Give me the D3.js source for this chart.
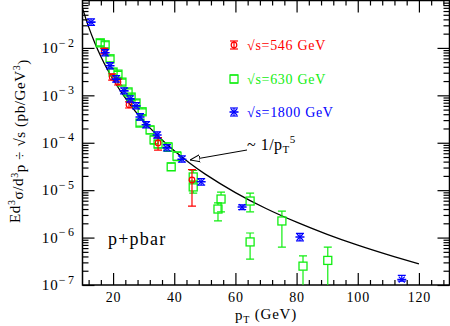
<!DOCTYPE html>
<html>
<head>
<meta charset="utf-8">
<script src="https://cdn.jsdelivr.net/npm/d3@7"></script>
<style>
body{margin:0;background:#fff}
svg{display:block}
text{font-family:"Liberation Serif",serif}
</style>
</head>
<body>
<svg id="chart" width="450" height="326"></svg>
<script>
// [pT, value, lower, upper]
var pts546 = [
	[17.1, 8.6e-3, 7.5e-3, 9.8e-3],
	[19.7, 2.45e-3, 2.1e-3, 2.85e-3],
	[21.6, 1.9e-3, 1.65e-3, 2.2e-3],
	[25.2, 6.3e-4, 5.4e-4, 7.3e-4],
	[34.7, 9.9e-5, 7.0e-5, 1.28e-4],
	[45.8, 1.64e-5, 4.6e-6, 2.7e-5]
];
var pts630 = [
	[15.8, 1.28e-2, 1.1e-2, 1.5e-2],
	[17.4, 1.16e-2, 1.0e-2, 1.35e-2],
	[19.0, 5.9e-3, 5.1e-3, 6.8e-3],
	[20.0, 3.1e-3, 2.7e-3, 3.6e-3],
	[21.6, 2.8e-3, 2.4e-3, 3.2e-3],
	[22.9, 1.9e-3, 1.65e-3, 2.2e-3],
	[24.9, 1.18e-3, 1.02e-3, 1.36e-3],
	[25.9, 9.2e-4, 8.0e-4, 1.06e-3],
	[27.5, 6.9e-4, 6.0e-4, 8.0e-4],
	[29.5, 4.5e-4, 3.9e-4, 5.2e-4],
	[28.8, 2.6e-4, 2.25e-4, 3.0e-4],
	[32.1, 1.86e-4, 1.55e-4, 2.25e-4],
	[33.4, 1.15e-4, 9.5e-5, 1.4e-4],
	[34.7, 9.4e-5, 7.8e-5, 1.13e-4],
	[38.0, 8.1e-5, 6.6e-5, 1.0e-4],
	[40.9, 5.2e-5, 4.2e-5, 6.4e-5],
	[39.0, 3.1e-5, 2.6e-5, 3.7e-5],
	[46.2, 1.9e-5, 1.35e-5, 2.6e-5],
	[46.2, 1.17e-5, 8.7e-6, 1.5e-5],
	[55.3, 6.5e-6, 3.5e-6, 9.1e-6],
	[54.3, 4.0e-6, 2.25e-6, 5.4e-6],
	[64.8, 5.9e-6, 3.5e-6, 8.7e-6],
	[64.8, 8.1e-7, 3.5e-7, 1.25e-6],
	[75.2, 2.24e-6, 6.3e-7, 3.6e-6],
	[82.1, 2.5e-7, 1e-8, 4.1e-7],
	[90.2, 3.3e-7, 1e-8, 6.3e-7]
];
var pts1800 = [
	[12.8, 3.5e-2, 3.0e-2, 4.1e-2],
	[17.4, 7.9e-3, 6.8e-3, 9.2e-3],
	[19.0, 4.2e-3, 3.6e-3, 4.9e-3],
	[21.0, 2.2e-3, 1.9e-3, 2.6e-3],
	[23.6, 1.24e-3, 1.07e-3, 1.44e-3],
	[25.6, 8.4e-4, 7.2e-4, 9.8e-4],
	[27.5, 6.0e-4, 5.2e-4, 7.0e-4],
	[28.8, 3.5e-4, 3.0e-4, 4.1e-4],
	[30.8, 2.4e-4, 2.05e-4, 2.8e-4],
	[34.4, 1.46e-4, 1.25e-4, 1.7e-4],
	[37.6, 7.8e-5, 6.7e-5, 9.1e-5],
	[42.5, 4.5e-5, 3.9e-5, 5.3e-5],
	[48.8, 1.5e-5, 1.28e-5, 1.75e-5],
	[62.2, 4.4e-6, 3.9e-6, 4.9e-6],
	[81.1, 1.03e-6, 8.5e-7, 1.23e-6],
	[114.4, 1.3e-7, 1.2e-7, 1.6e-7]
];
// the ~1/pT^5 curve
var curvePts = [
	[10, 6.9e-2], [12, 2.78e-2], [14, 1.29e-2], [16, 6.6e-3], [18, 3.66e-3],
	[20, 2.16e-3], [25, 7.1e-4], [30, 2.85e-4], [35, 1.32e-4], [40, 6.75e-5],
	[45, 3.75e-5], [50, 2.21e-5], [60, 8.9e-6], [70, 4.1e-6], [80, 2.11e-6],
	[90, 1.17e-6], [100, 6.9e-7], [110, 4.3e-7], [120, 2.78e-7]
];
var xMajor = [20, 40, 60, 80, 100, 120];
var yMajor = [1e-7, 1e-6, 1e-5, 1e-4, 1e-3, 1e-2];
var legendLabels = ["\u221As=546 GeV", "\u221As=630 GeV", "\u221As=1800 GeV"];

var RED = "#ff0000", GREEN = "#11ee11", BLUE = "#0000ff";

var svg = d3.select("#chart");
var L = 82.5, R = 449.5, T = 0.5, B = 285;
var x = d3.scaleLinear().domain([10, 130]).range([L, R]);
var y = d3.scaleLog().domain([1e-7, 1e-1]).range([B, T]);

var xMinor = d3.range(12, 130, 4).filter(function(v){ return v % 20 != 0; });
var yMinor = [];
for(var k = -7; k < -1; k++){
	for(var m = 2; m <= 9; m++) yMinor.push(m * Math.pow(10, k));
}

function styleAxis(g){
	g.select(".domain").remove();
	g.selectAll("line").attr("stroke", "#000").attr("stroke-width", 1.2);
}

// ticks on all four sides, pointing inward
svg.append("g").attr("transform", "translate(0," + B + ")")
	.call(d3.axisBottom(x).tickValues(xMajor).tickSizeInner(-12).tickSizeOuter(0).tickPadding(7))
	.call(styleAxis)
	.selectAll("text").attr("font-size", 14).attr("letter-spacing", 0.8).attr("fill", "#000");
svg.append("g").attr("transform", "translate(0," + B + ")")
	.call(d3.axisBottom(x).tickValues(xMinor).tickSizeInner(-5).tickSizeOuter(0).tickFormat(""))
	.call(styleAxis);
svg.append("g").attr("transform", "translate(0," + T + ")")
	.call(d3.axisTop(x).tickValues(xMajor).tickSizeInner(-12).tickSizeOuter(0).tickFormat(""))
	.call(styleAxis);
svg.append("g").attr("transform", "translate(0," + T + ")")
	.call(d3.axisTop(x).tickValues(xMinor).tickSizeInner(-5).tickSizeOuter(0).tickFormat(""))
	.call(styleAxis);

var yl = svg.append("g").attr("transform", "translate(" + L + ",0)")
	.call(d3.axisLeft(y).tickValues(yMajor).tickSizeInner(-12).tickSizeOuter(0).tickPadding(6).tickFormat(""))
	.call(styleAxis);
yl.selectAll(".tick text").each(function(d){
	var t = d3.select(this).attr("font-size", 15).attr("fill", "#000").attr("dy", "0.32em");
	t.append("tspan").attr("letter-spacing", 1).text("10");
	t.append("tspan").attr("font-size", 12).attr("letter-spacing", 2.5).attr("dy", "-0.55em").text("\u2212" + Math.round(-Math.log10(d)));
});
svg.append("g").attr("transform", "translate(" + L + ",0)")
	.call(d3.axisLeft(y).tickValues(yMinor).tickSizeInner(-6).tickSizeOuter(0).tickFormat(""))
	.call(styleAxis);
svg.append("g").attr("transform", "translate(" + R + ",0)")
	.call(d3.axisRight(y).tickValues(yMajor).tickSizeInner(-12).tickSizeOuter(0).tickFormat(""))
	.call(styleAxis);
svg.append("g").attr("transform", "translate(" + R + ",0)")
	.call(d3.axisRight(y).tickValues(yMinor).tickSizeInner(-6).tickSizeOuter(0).tickFormat(""))
	.call(styleAxis);

svg.append("rect").attr("x", L).attr("y", T).attr("width", R - L).attr("height", B - T)
	.attr("fill", "none").attr("stroke", "#000").attr("stroke-width", 1.5);

svg.append("clipPath").attr("id", "plotclip").append("rect")
	.attr("x", L).attr("y", T).attr("width", R - L).attr("height", B - T);
var plot = svg.append("g").attr("clip-path", "url(#plotclip)");

// curve
plot.append("path").datum(curvePts)
	.attr("d", d3.line().x(function(d){ return x(d[0]); }).y(function(d){ return y(d[1]); }).curve(d3.curveCatmullRom))
	.attr("fill", "none").attr("stroke", "#000").attr("stroke-width", 1.3);

function errBar(g, cx, yHi, yLo, gapTop, gapBot, col){
	var cw = 4;
	g.append("line").attr("x1", cx).attr("x2", cx).attr("y1", yHi).attr("y2", gapTop).attr("stroke", col);
	g.append("line").attr("x1", cx).attr("x2", cx).attr("y1", gapBot).attr("y2", yLo).attr("stroke", col);
	g.append("line").attr("x1", cx - cw).attr("x2", cx + cw).attr("y1", yHi).attr("y2", yHi).attr("stroke", col);
	g.append("line").attr("x1", cx - cw).attr("x2", cx + cw).attr("y1", yLo).attr("y2", yLo).attr("stroke", col);
}

function drawRed(g, cx, cy, yHi, yLo){
	errBar(g, cx, yHi, yLo, cy, cy, RED);
	g.append("circle").attr("cx", cx).attr("cy", cy).attr("r", 2.8).attr("fill", "none").attr("stroke", RED).attr("stroke-width", 1.2);
}
function drawGreen(g, cx, cy, yHi, yLo){
	errBar(g, cx, yHi, yLo, Math.min(cy - 4, yLo), Math.max(cy + 4, yHi), GREEN);
	g.append("rect").attr("x", cx - 4).attr("y", cy - 4).attr("width", 8).attr("height", 8)
		.attr("fill", "none").attr("stroke", GREEN).attr("stroke-width", 1.3);
}
function drawBlue(g, cx, cy, yHi, yLo){
	errBar(g, cx, yHi, yLo, cy, cy, BLUE);
	g.append("line").attr("x1", cx - 4.5).attr("x2", cx + 4.5).attr("y1", cy).attr("y2", cy).attr("stroke", BLUE).attr("stroke-width", 1.6);
	g.append("line").attr("x1", cx - 3).attr("x2", cx + 3).attr("y1", cy - 3).attr("y2", cy + 3).attr("stroke", BLUE).attr("stroke-width", 1.2);
	g.append("line").attr("x1", cx - 3).attr("x2", cx + 3).attr("y1", cy + 3).attr("y2", cy - 3).attr("stroke", BLUE).attr("stroke-width", 1.2);
}

function drawSeries(data, fn){
	var g = plot.append("g").attr("stroke-width", 1.2);
	data.forEach(function(d){
		fn(g, x(d[0]), y(d[1]), y(d[3]), y(d[2]));
	});
}
drawSeries(pts630, drawGreen);
drawSeries(pts546, drawRed);
drawSeries(pts1800, drawBlue);

// legend
var legY = [45, 79, 112], legCol = [RED, GREEN, BLUE], legFn = [drawRed, drawGreen, drawBlue];
legendLabels.forEach(function(lab, i){
	var g = svg.append("g").attr("stroke-width", 1.2);
	legFn[i](g, 234, legY[i], legY[i] - 4, legY[i] + 4);
	svg.append("text").attr("x", 247).attr("y", legY[i] + 5).attr("font-size", 14)
		.attr("letter-spacing", 0.7).attr("fill", legCol[i]).text(lab);
});

// annotation
svg.append("defs").append("marker").attr("id", "arr").attr("viewBox", "0 0 10 10")
	.attr("refX", 10).attr("refY", 5).attr("markerWidth", 10).attr("markerHeight", 10)
	.attr("markerUnits", "userSpaceOnUse").attr("orient", "auto")
	.append("path").attr("d", "M0,1.5L10,5L0,8.5Z").attr("fill", "#fff").attr("stroke", "#000").attr("stroke-width", 1);
svg.append("line").attr("x1", 247).attr("y1", 150).attr("x2", 190).attr("y2", 160)
	.attr("stroke", "#000").attr("stroke-width", 1).attr("marker-end", "url(#arr)");
var ann = svg.append("text").attr("x", 247).attr("y", 150).attr("font-size", 16).attr("letter-spacing", 0.5).attr("fill", "#000");
ann.append("tspan").text("~ 1/p");
ann.append("tspan").attr("font-size", 11).attr("dy", "0.3em").text("T");
ann.append("tspan").attr("font-size", 11).attr("dy", "-0.95em").text("5");

svg.append("text").attr("x", 108).attr("y", 245).attr("font-size", 18).attr("letter-spacing", 1.2)
	.attr("fill", "#000").text("p+pbar");

// axis titles
var xt = svg.append("text").attr("x", 266).attr("y", 320).attr("font-size", 15).attr("letter-spacing", 0.8).attr("text-anchor", "middle");
xt.append("tspan").text("p");
xt.append("tspan").attr("font-size", 10).attr("dy", "0.3em").text("T");
xt.append("tspan").attr("dy", "-0.3em").text(" (GeV)");

var yt = svg.append("text").attr("transform", "translate(20,141) rotate(-90)").attr("font-size", 15)
	.attr("letter-spacing", 0.6).attr("text-anchor", "middle");
yt.append("tspan").text("Ed");
yt.append("tspan").attr("font-size", 10).attr("dy", "-0.5em").text("3");
yt.append("tspan").attr("dy", "0.5em").text("\u03C3/d");
yt.append("tspan").attr("font-size", 10).attr("dy", "-0.5em").text("3");
yt.append("tspan").attr("dy", "0.5em").text("p \u00F7 \u221As (pb/GeV");
yt.append("tspan").attr("font-size", 10).attr("dy", "-0.5em").text("3");
yt.append("tspan").attr("dy", "0.5em").text(")");
</script>
</body>
</html>
